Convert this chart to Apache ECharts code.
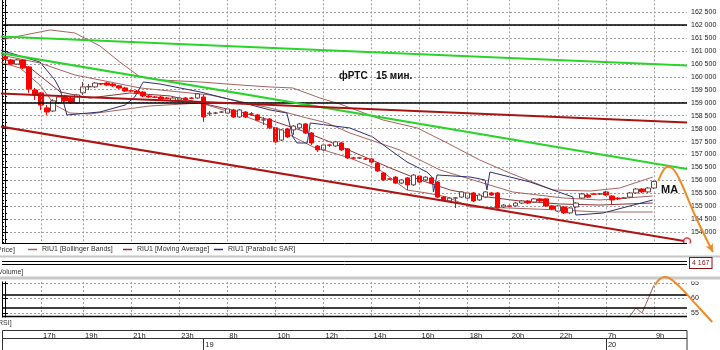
<!DOCTYPE html>
<html><head><meta charset="utf-8">
<script src="https://cdn.jsdelivr.net/npm/echarts/dist/echarts.min.js"></script>
<style>html,body{margin:0;padding:0;background:#fff}#c{width:720px;height:350px}</style>
</head><body><div id="c"></div>
<script>
// ---------- data ----------
const sessions = [['18','15:30','18:30'],['18','19:00','23:45'],['19','07:00','18:30'],['19','19:00','23:45'],['20','07:00','10:15']];
const categories = [];
sessions.forEach(([d, a, b]) => {
  const toM = s => +s.slice(0,2)*60 + +s.slice(3);
  for (let m = toM(a); m <= toM(b); m += 15) {
    categories.push(d + ' ' + String(Math.floor(m/60)).padStart(2,'0') + ':' + String(m%60).padStart(2,'0'));
  }
});
const hourTickIdx  = [6,13,21,29,37,45,53,61,69,77,84,92,100,108];
const hourTickText = ['17h','19h','21h','23h','8h','10h','12h','14h','16h','18h','20h','22h','7h','9h'];
const dateTickIdx  = [33,100];
const dateTickText = ['19','20'];
const priceMin = 153500, priceMax = 163000, priceStep = 500;
const rsiMin = 50, rsiMax = 70, rsiStep = 5;
const rsiShown = [65,60,55];
// [open, close, low, high]
const ohlc = [
[160760,160690,160650,160800],[160650,160490,160460,160690],[160490,160650,160460,160690],[160650,160340,160300,160690],
[160380,159530,159380,160420],[159490,159300,159110,159570],[159380,158910,158720,159410],[158800,158640,158530,158910],
[158680,159070,158640,159140],[158990,159220,158950,159260],[159260,159070,159030,159300],[159180,158990,158950,159220],
[158990,159300,158950,159340],[159380,159610,159300,159800],[159610,159620,159490,159720],[159610,159760,159570,159800],
[159740,159720,159680,159760],[159760,159680,159650,159800],[159720,159650,159610,159760],[159650,159570,159530,159680],
[159570,159450,159410,159610],[159460,159450,159410,159490],[159450,159380,159340,159490],[159410,159260,159220,159450],
[159260,159220,159180,159300],[159220,159210,159180,159260],[159220,159140,159110,159260],[159180,159170,159140,159220],
[159070,159180,159030,159220],[159110,159180,159070,159220],[159180,159110,159070,159220],[159180,159170,159140,159220],
[159180,159340,159140,159370],[159220,158450,158260,159300],[158570,158600,158490,158680],[158600,158600,158560,158640],
[158640,158640,158600,158680],[158600,158760,158570,158800],[158720,158450,158410,158760],[158450,158720,158410,158760],
[158640,158450,158410,158680],[158570,158560,158490,158640],[158530,158330,158290,158570],[158330,158340,158140,158450],
[158370,158030,157990,158410],[158030,157490,157450,158060],[157560,157950,157520,157990],[157990,157680,157640,158030],
[157950,158100,157760,158140],[158030,158180,157990,158220],[158180,157830,157790,158220],[157830,157450,157370,157870],
[157330,157180,157100,157370],[157180,157370,157140,157410],[157370,157360,157290,157410],[157330,157490,157290,157530],
[157450,157180,157140,157490],[157220,156870,156830,157250],[156870,156860,156830,156910],[156870,156870,156830,156910],
[156830,156830,156790,156870],[156830,156710,156670,156870],[156670,156370,156330,156710],[156290,156020,155980,156330],
[156060,156050,156020,156100],[156130,155900,155860,156170],[155900,156020,155860,156060],[156100,155830,155630,156130],
[155830,156210,155790,156250],[156170,155940,155900,156210],[156020,156130,155980,156170],[156100,155900,155860,156130],
[155940,155360,155320,155980],[155360,155250,155210,155400],[155210,155320,155170,155360],[155320,155330,154940,155360],
[155360,155560,155320,155590],[155320,155520,155290,155560],[155520,155210,155170,155560],[155250,155440,155210,155480],
[155360,155560,155320,155590],[155520,155440,155400,155560],[155520,154940,154900,155560],[154980,155050,154940,155090],
[155020,155010,154980,155050],[155020,155130,154980,155170],[155130,155210,155090,155250],[155210,155130,155090,155250],
[155170,155290,155130,155320],[155290,155210,155170,155320],[155290,155020,154980,155320],[155020,154900,154860,155050],
[154820,155020,154780,155050],[154980,154750,154710,155020],[154750,154940,154710,154980],[154980,155130,154940,155170],
[155320,155480,155290,155520],[155440,155360,155320,155480],[155480,155470,155440,155520],[155480,155480,155440,155520],
[155560,155440,155400,155600],[155400,155250,155050,155440],[155320,155290,155250,155360],[155320,155320,155290,155360],
[155360,155520,155320,155560],[155520,155670,155480,155710],[155670,155560,155520,155710],[155560,155710,155520,155750],
[155710,155960,155670,156000]
];
const lastClose = ohlc[ohlc.length-1][1];
const lastVolume = 4167;
// indicator traces [bar index, value]
const bbUpper = [[-0.8,161420],[3.3,161613],[7.5,161806],[11.6,161690],[15.8,161188],[19.1,160571],[22.5,159992],[25.8,159877],[32.5,159799],[39.1,159684],[44.1,159607],[47.9,159568],[52.4,159182],[55.7,158951],[62.9,158333],[68.6,158025],[73.6,157446],[79.0,156790],[84.0,156289],[91.2,155633],[97.4,155594],[102.3,155710],[107.8,156134]];
const bbMiddle = [[-0.8,160841],[5.8,160532],[11.6,160070],[15.8,159877],[22.5,159568],[29.1,159414],[34.1,159298],[40.3,158989],[44.1,158796],[49.6,158449],[53.6,158218],[57.4,157832],[65.7,157176],[72.4,156405],[79.0,155941],[84.5,155556],[92.9,155324],[99.0,155247],[107.8,155401]];
const bbLower = [[-0.8,160571],[2.5,160340],[5.8,159684],[8.3,158912],[10.8,158603],[14.1,158565],[19.1,158719],[24.1,158874],[32.5,158989],[40.3,158449],[45.8,157948],[51.3,157292],[57.4,156867],[62.4,156404],[66.9,155633],[70.2,155517],[73.6,155363],[77.4,154977],[84.0,154938],[92.4,154861],[99.0,154784],[107.8,154784]];
const maLine = [[-0.8,160725],[4.2,160340],[9.2,159414],[14.1,159182],[20.8,159375],[27.5,159259],[34.1,158912],[39.1,158642],[44.1,158333],[49.1,157948],[54.1,157485],[59.1,156983],[64.1,156482],[69.1,156019],[74.1,155633],[79.0,155401],[85.7,155208],[92.4,155093],[99.0,155054],[107.8,155131]];
const sarLine = [[-0.8,161034],[5.8,160571],[8.3,159877],[9.2,159491],[9.5,159414],[10.3,158526],[15.8,158642],[20.0,158912],[21.6,159221],[23.0,159799],[25.8,159722],[32.5,159414],[39.1,159028],[44.1,158719],[46.9,158603],[47.9,157677],[48.6,157446],[50.3,157446],[50.8,158218],[57.4,158025],[61.2,157677],[64.1,157176],[66.9,156713],[70.2,156327],[71.1,156134],[71.3,155556],[71.9,156211],[77.4,156134],[79.9,156019],[80.2,155633],[80.7,156327],[87.4,155941],[94.5,155363],[95.0,154668],[99.5,154745],[107.8,155247]];
const greenLines = [[[-0.8,161555],[113.5,160436]], [[-0.8,160918],[113.5,156443]]];
const redLines   = [[[-0.8,159356],[113.5,158237]], [[-0.8,158083],[113.5,153646]]];
const levelLines = [162000, 159000];
const rsiValues = [[103,51],[104,54],[105,56.7],[106,55],[107,59.5],[108,64.3]];
const rsiLevels = [61.2, 56.6];
const arrowPrice = [[108.7,155980],[109.5,156366],[110.2,156520],[111.0,156482],[112.3,156019],[114.8,154668],[117.8,153241]];
const arrowRsi   = [[108.2,64.3],[108.8,66],[109.7,67],[110.5,66.7],[112.3,63.7],[114.8,58.3],[117.7,52]];

// ---------- chart ----------
const FONT = "'Liberation Sans', Arial, sans-serif";
const fmt = v => String(v).replace(/\B(?=(\d{3})+(?!\d))/g, ' ');
const hourMap = {}; hourTickIdx.forEach((i,k)=>hourMap[i]=hourTickText[k]);
const dateMap = {}; dateTickIdx.forEach((i,k)=>dateMap[i]=dateTickText[k]);
const N = categories.length;
const GRID_W = 685, BAR_W = GRID_W / N;
const OVER_W = 718, overMax = -0.5 + OVER_W / BAR_W;
const mainH = 246.3, overMinPrice = 153000;
const overH = mainH * (priceMax - overMinPrice) / (priceMax - priceMin);
const gridDot = {color:'#a0a0a0', type:[2,2], width:1};
const vLines = hourTickIdx.map(i => ({xAxis: i}));

const chart = echarts.init(document.getElementById('c'), null, {renderer:'canvas'});
const lineS = (name, data, color, w, z) => ({type:'line', name, data, xAxisIndex:1, yAxisIndex:0, color,
  lineStyle:{color, width:w}, symbol:'none', silent:true, z: z||3});

chart.setOption({
  animation:false,
  backgroundColor:'#fff',
  textStyle:{fontFamily:FONT},
  title:{text:'фРТС   15 мин.', left:334, top:66, textStyle:{fontSize:10, fontWeight:'bold', color:'#111', fontFamily:FONT}},
  legend:[
    {data:['RIU1 [Bollinger Bands]'], left:28, top:246},
    {data:['RIU1 [Moving Average]'], left:123, top:246},
    {data:['RIU1 [Parabolic SAR]'], left:214, top:246}
  ].map(l => Object.assign(l, {icon:'rect', itemWidth:9, itemHeight:1.5, padding:0, selectedMode:false, z:70,
    textStyle:{fontSize:7, color:'#333', fontFamily:FONT}})),
  grid:[
    {left:2, top:-1, width:GRID_W, height:mainH, outerBoundsMode:'none'},
    {left:2, top:268, width:GRID_W, height:60, outerBoundsMode:'none'},
    {left:2, top:330, width:GRID_W, height:20, outerBoundsMode:'none'},
    {left:2, top:-1, width:OVER_W, height:overH, outerBoundsMode:'none'},
    {left:2, top:268, width:OVER_W, height:60, outerBoundsMode:'none'}
  ],
  xAxis:[
    {type:'category', gridIndex:0, data:categories, show:false},
    {type:'value', gridIndex:0, min:-0.5, max:N-0.5, show:false},
    {type:'category', gridIndex:1, data:categories, show:false},
    {type:'value', gridIndex:1, min:-0.5, max:N-0.5, show:false},
    {type:'category', gridIndex:2, data:categories, position:'top',
      axisLine:{show:true, lineStyle:{color:'#333'}},
      axisTick:{show:true, inside:true, length:8, alignWithLabel:true, interval:(i)=>i in hourMap, lineStyle:{color:'#333'}},
      axisLabel:{show:true, inside:true, interval:(i)=>i in hourMap, formatter:(v,i)=>hourMap[i]||'', align:'left',
        padding:[0,0,0,2], margin:1.5, fontSize:7.5, color:'#222', fontFamily:FONT},
      splitLine:{show:false}},
    {type:'category', gridIndex:2, data:categories, position:'bottom',
      axisLine:{show:false},
      axisTick:{show:true, inside:true, length:12, alignWithLabel:true, interval:(i)=>i in dateMap, lineStyle:{color:'#333'}},
      axisLabel:{show:true, inside:true, interval:(i)=>i in dateMap, formatter:(v,i)=>dateMap[i]||'', align:'left',
        padding:[0,0,0,2], margin:1.5, fontSize:7.5, color:'#222', fontFamily:FONT},
      splitLine:{show:false}},
    {type:'value', gridIndex:3, min:-0.5, max:overMax, show:false},
    {type:'value', gridIndex:4, min:-0.5, max:overMax, show:false}
  ],
  yAxis:[
    {type:'value', gridIndex:0, position:'right', min:priceMin, max:priceMax, interval:priceStep,
      axisLine:{show:true, lineStyle:{color:'#000'}},
      axisTick:{show:true, length:3, lineStyle:{color:'#000'}},
      minorTick:{show:true, splitNumber:2, length:2, lineStyle:{color:'#000'}},
      axisLabel:{showMinLabel:false, showMaxLabel:false, fontSize:7, color:'#222', margin:4, formatter:fmt, fontFamily:FONT},
      splitLine:{show:true, lineStyle:gridDot}},
    {type:'value', gridIndex:0, position:'left', min:priceMin, max:priceMax, interval:priceStep,
      axisLine:{show:true, lineStyle:{color:'#000'}},
      axisTick:{show:true, inside:true, length:3, lineStyle:{color:'#000'}},
      minorTick:{show:true, splitNumber:4, length:2, lineStyle:{color:'#000'}},
      axisLabel:{show:false}, splitLine:{show:false}},
    {type:'value', gridIndex:1, position:'right', min:rsiMin, max:rsiMax, interval:rsiStep,
      axisLine:{show:true, lineStyle:{color:'#000'}},
      axisTick:{show:true, length:3, lineStyle:{color:'#000'}},
      axisLabel:{fontSize:7, color:'#222', margin:4, fontFamily:FONT, formatter:v => rsiShown.includes(v) ? String(v) : ''},
      splitLine:{show:true, lineStyle:gridDot}},
    {type:'value', gridIndex:1, position:'left', min:rsiMin, max:rsiMax, interval:rsiStep,
      axisLine:{show:true, lineStyle:{color:'#000'}},
      axisTick:{show:true, inside:true, length:3, lineStyle:{color:'#000'}},
      axisLabel:{show:false}, splitLine:{show:false}},
    {type:'value', gridIndex:2, show:false},
    {type:'value', gridIndex:3, min:overMinPrice, max:priceMax, show:false},
    {type:'value', gridIndex:4, min:rsiMin, max:rsiMax, show:false}
  ],
  series:[
    {type:'candlestick', name:'Price', xAxisIndex:0, yAxisIndex:0, data:ohlc, barWidth:5, z:4,
      itemStyle:{color:'#ffffff', color0:'#ff0000', borderColor:'#6b4545', borderColor0:'#ff0000', borderWidth:1},
      markLine:{silent:true, symbol:['none','none'], label:{show:false}, lineStyle:gridDot,
        data: vLines.concat(levelLines.map(v => ({yAxis:v, lineStyle:{color:'#000', type:'solid', width:1.5}})))
          .concat([{yAxis:lastClose, lineStyle:{opacity:0},
            label:{show:true, position:'end', distance:3, formatter:fmt(lastClose), color:'#8b1010', fontSize:7,
              fontFamily:FONT, backgroundColor:'#fff', borderColor:'#8b1010', borderWidth:1, padding:[2,2,1,2]}}])}},
    lineS('trend', greenLines[0], '#2bd42b', 2, 5),
    lineS('trend', greenLines[1], '#2bd42b', 2, 5),
    lineS('trend', redLines[0], '#a81414', 2, 5),
    lineS('trend', redLines[1], '#b01414', 2, 5),
    lineS('RIU1 [Bollinger Bands]', bbUpper, '#a5645f', 1),
    lineS('RIU1 [Bollinger Bands]', bbMiddle, '#a5645f', 1),
    lineS('RIU1 [Bollinger Bands]', bbLower, '#a5645f', 1),
    lineS('RIU1 [Moving Average]', maLine, '#8e3434', 1),
    lineS('RIU1 [Parabolic SAR]', sarLine, '#2e2e6e', 1),
    {type:'scatter', name:'end', xAxisIndex:1, yAxisIndex:0, data:[redLines[1][1]], symbol:'circle', symbolSize:7, clip:false, z:6,
      itemStyle:{color:'#fff', borderColor:'#d01010', borderWidth:1.5}, silent:true},
    {type:'line', name:'arrow1', xAxisIndex:6, yAxisIndex:5, clip:false, smooth:0.4, z:60, silent:true,
      data: arrowPrice.map((p,k)=> k===arrowPrice.length-1 ? {value:p, symbol:'arrow', symbolSize:[6,8], symbolRotate:-154} : {value:p}),
      symbol:'none', showSymbol:true, color:'#f08a24', lineStyle:{color:'#f08a24', width:2}},
    {type:'line', name:'RSI', xAxisIndex:3, yAxisIndex:2, data:rsiValues, symbol:'none', color:'#a06060',
      lineStyle:{color:'#a06060', width:1}, silent:true,
      markLine:{silent:true, symbol:['none','none'], label:{show:false}, lineStyle:gridDot,
        data: vLines.concat(rsiLevels.map(v => ({yAxis:v, lineStyle:{color:'#000', type:'solid', width:1.5}})))}},
    {type:'line', name:'arrow2', xAxisIndex:7, yAxisIndex:6, clip:false, smooth:0.4, z:60, silent:true, data:arrowRsi,
      symbol:'none', color:'#f08a24', lineStyle:{color:'#f08a24', width:2}},
    {type:'line', name:'time', xAxisIndex:4, yAxisIndex:4, data:[]}
  ],
  graphic:[
    {type:'rect', z:50, silent:true, shape:{x:0, y:243.5, width:720, height:38}, style:{fill:'#fff'}},
    {type:'rect', z:50, silent:true, shape:{x:0, y:317.5, width:720, height:12}, style:{fill:'#fff'}},
    {type:'line', z:55, silent:true, shape:{x1:2, y1:243.5, x2:687, y2:243.5}, style:{stroke:'#000', lineWidth:1}},
    {type:'text', z:55, silent:true, x:-3, y:250.5, style:{text:'Price]', fontSize:7, fill:'#333', font:'7px '+FONT, verticalAlign:'middle'}},
    {type:'rect', z:55, silent:true, shape:{x:0, y:255.5, width:720, height:2}, style:{fill:'#c4c4c4'}},
    {type:'line', z:55, silent:true, shape:{x1:2, y1:261.5, x2:687, y2:261.5}, style:{stroke:'#000', lineWidth:1}},
    {type:'line', z:55, silent:true, shape:{x1:2, y1:264.5, x2:687, y2:264.5}, style:{stroke:'#000', lineWidth:1}},
    {type:'text', z:55, silent:true, x:690, y:263, style:{text:fmt(lastVolume), font:'7px '+FONT, fill:'#8b1010', verticalAlign:'middle',
      backgroundColor:'#fff', borderColor:'#8b1010', borderWidth:1, padding:[2,2,1,2]}},
    {type:'text', z:55, silent:true, x:-2, y:272.5, style:{text:'Volume]', font:'7px '+FONT, fill:'#333', verticalAlign:'middle'}},
    {type:'rect', z:55, silent:true, shape:{x:0, y:276.5, width:720, height:3}, style:{fill:'#c8c8c8'}},
    {type:'line', z:55, silent:true, shape:{x1:2, y1:316.5, x2:687, y2:316.5}, style:{stroke:'#000', lineWidth:1.5}},
    {type:'text', z:55, silent:true, x:-2, y:323, style:{text:'RSI]', font:'7px '+FONT, fill:'#333', verticalAlign:'middle'}},
    {type:'rect', z:55, silent:true, shape:{x:2.5, y:330.5, width:684.5, height:25}, style:{fill:'none', stroke:'#333', lineWidth:1}},
    {type:'line', z:55, silent:true, shape:{x1:2, y1:338.5, x2:687, y2:338.5}, style:{stroke:'#333', lineWidth:1}},
    {type:'text', z:60, silent:true, x:661, y:190, style:{text:'MA', font:'bold 11px '+FONT, fill:'#111', verticalAlign:'middle'}}
  ]
});
</script></body></html>
